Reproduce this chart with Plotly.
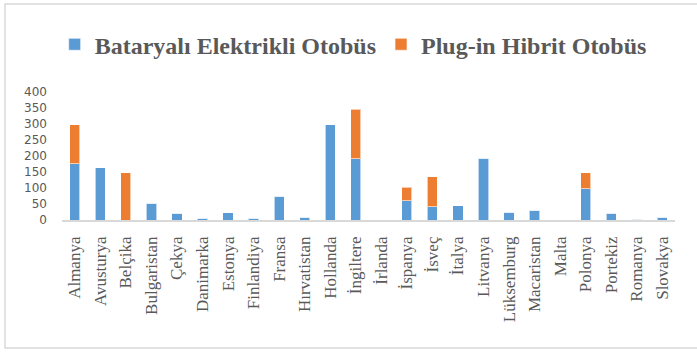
import plotly.graph_objects as go

categories = ["Almanya", "Avusturya", "Belçika", "Bulgaristan", "Çekya", "Danimarka",
              "Estonya", "Finlandiya", "Fransa", "Hırvatistan", "Hollanda", "İngiltere",
              "İrlanda", "İspanya", "İsveç", "İtalya", "Litvanya", "Lüksemburg",
              "Macaristan", "Malta", "Polonya", "Portekiz", "Romanya", "Slovakya"]
bev = [176, 163, 0, 52, 21, 5, 23, 5, 75, 8, 297, 192, 0, 60, 42, 45, 193, 24, 31, 0, 97, 21, 2, 8]
phev = [121, 0, 148, 0, 0, 0, 0, 0, 0, 0, 0, 154, 0, 42, 93, 0, 0, 0, 0, 0, 50, 0, 0, 0]
series_names = ["Bataryalı Elektrikli Otobüs", "Plug-in Hibrit Otobüs"]
y_ticks = [0, 50, 100, 150, 200, 250, 300, 350, 400]

BLUE = "#5B9BD5"
ORANGE = "#ED7D31"
GRAY = "#595959"
SERIF = "'Liberation Serif', 'Times New Roman', serif"

fig = go.Figure()
fig.add_trace(go.Bar(x=categories, y=bev, name=series_names[0],
                     marker=dict(color=BLUE, line=dict(color="rgba(255,255,255,0.6)", width=1))))
fig.add_trace(go.Bar(x=categories, y=phev, name=series_names[1],
                     marker=dict(color=ORANGE, line=dict(color="rgba(255,255,255,0.6)", width=1))))

fig.update_layout(
    width=697, height=354,
    margin=dict(l=62, r=22, t=92, b=134),
    barmode="stack", bargap=0.6,
    plot_bgcolor="white", paper_bgcolor="white",
    showlegend=True,
    legend=dict(orientation="h", x=0.475, xanchor="center", y=1.37, yanchor="middle",
                font=dict(family=SERIF, size=24, color=GRAY, weight="bold"),
                itemwidth=30, traceorder="normal"),
    xaxis=dict(tickangle=-90, showline=True, linecolor="#d9d9d9", linewidth=1.5,
               ticks="", showgrid=False,
               tickfont=dict(family=SERIF, size=17, color=GRAY),
               ticklabelstandoff=8),
    yaxis=dict(range=[0, 400], tickvals=y_ticks, showgrid=False, zeroline=False,
               showline=False, ticks="",
               tickfont=dict(family="DejaVu Sans", size=12, color=GRAY),
               ticklabelstandoff=14),
)

fig.add_shape(type="rect", xref="paper", yref="paper",
              x0=-0.093, x1=1.041, y0=-1.0, y1=1.6875,
              line=dict(color="#d9d9d9", width=1.5), fillcolor="rgba(0,0,0,0)", layer="below")

fig.write_html("out.html")
